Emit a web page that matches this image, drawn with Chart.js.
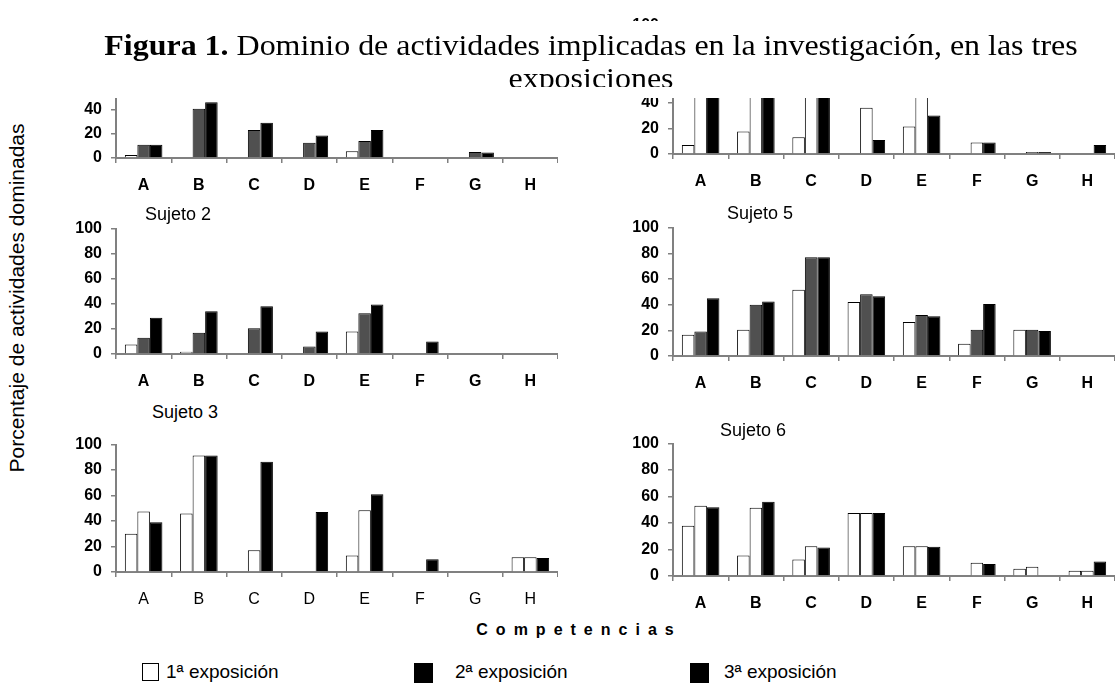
<!DOCTYPE html>
<html lang="es">
<head>
<meta charset="utf-8">
<script src="https://cdn.jsdelivr.net/npm/chart.js@4.4.1/dist/chart.umd.min.js"></script>
<style>
  body { margin: 0; width: 1115px; height: 689px; background: #fff; position: relative; overflow: hidden;
         font-family: "Liberation Sans", Arial, sans-serif; color: #000; }
  canvas.panel { position: absolute; }
  #titulo { position: absolute; left: 60px; top: 21px; width: 1055px; height: 77px; background: #fff; z-index: 5; }
  #titulo .clip { position: absolute; left: 31px; top: 0; width: 1000px; height: 66px; overflow: hidden;
                  text-align: center; font: 30px "Liberation Serif", "Times New Roman", serif; line-height: 33px;
                  padding-top: 7px; box-sizing: border-box; transform: scaleX(1.065); transform-origin: 50% 0; }
  .sujeto { position: absolute; font-size: 18px; line-height: 20px; z-index: 3; }
  #ylabel { position: absolute; left: 17px; top: 298px; transform: translate(-50%, -50%) rotate(-90deg);
            white-space: nowrap; font-size: 21px; }
  #xlabel { position: absolute; left: 579px; top: 630px; transform: translate(-50%, -50%);
            font-weight: bold; font-size: 16px; letter-spacing: 8px; white-space: nowrap; }
  .ley { position: absolute; top: 661px; font-size: 19px; line-height: 22px; white-space: nowrap; }
  .caja { position: absolute; top: 663px; box-sizing: border-box; }
</style>
</head>
<body>

<div id="titulo"><div class="clip"><b>Figura 1.</b> Dominio de actividades implicadas en la investigación, en las tres<br>exposiciones</div></div>

<div id="ylabel">Porcentaje de actividades dominadas</div>
<div id="xlabel">Competencias</div>

<div class="caja" style="left:142px; width:17px; height:18px; border:1.5px solid #000; background:#fff;"></div>
<div class="ley" style="left:166px;">1ª exposición</div>
<div class="caja" style="left:414px; width:19px; height:20px; background:#000;"></div>
<div class="ley" style="left:455px;">2ª exposición</div>
<div class="caja" style="left:690px; width:19px; height:20px; background:#000;"></div>
<div class="ley" style="left:724px;">3ª exposición</div>

<div class="sujeto" style="left:145px; top:204px;">Sujeto 2</div>
<div class="sujeto" style="left:727px; top:203px;">Sujeto 5</div>
<div class="sujeto" style="left:152px; top:402px;">Sujeto 3</div>
<div class="sujeto" style="left:720px; top:420px;">Sujeto 6</div>

<canvas class="panel" id="s1"></canvas>
<canvas class="panel" id="s2"></canvas>
<canvas class="panel" id="s3"></canvas>
<canvas class="panel" id="s4"></canvas>
<canvas class="panel" id="s5"></canvas>
<canvas class="panel" id="s6"></canvas>

<script>
// --- datos (porcentaje de actividades dominadas) ---
const competencias = ['A', 'B', 'C', 'D', 'E', 'F', 'G', 'H'];

const sujeto1_exp1 = [2.5, 0, 0, 0, 5.5, 0, 0, 0];
const sujeto1_exp2 = [11, 40.5, 23, 12.5, 14, 0, 5, 0];
const sujeto1_exp3 = [11, 46, 29, 18.5, 23, 0, 4.5, 0];

const sujeto2_exp1 = [7.5, 1.8, 0, 0, 18, 0, 0, 0];
const sujeto2_exp2 = [13, 17, 20.5, 6, 32.5, 0, 0, 0];
const sujeto2_exp3 = [29, 34, 38, 18, 39.5, 10, 0, 0];

const sujeto3_exp1 = [30, 46, 0, 0, 13, 0, 0, 11.5];
const sujeto3_exp2 = [47.5, 91.5, 17, 0, 48.5, 0, 0, 11.5];
const sujeto3_exp3 = [39, 91.5, 86.5, 47, 61, 10, 0, 11];

// en el sujeto 4 las barras mas altas quedan tapadas por el titulo
const sujeto4_exp1 = [7, 17.5, 13, 0, 21.5, 0, 0, 0];
const sujeto4_exp2 = [60, 75, 70, 36, 55, 9, 1.5, 0];
const sujeto4_exp3 = [58, 80, 78, 11, 30, 9, 1.5, 7];

const sujeto5_exp1 = [16.5, 20.5, 51.5, 42, 26.5, 9.5, 20.5, 0];
const sujeto5_exp2 = [19, 40, 77, 48, 32, 20.5, 20.5, 0];
const sujeto5_exp3 = [45, 42.5, 77, 46.5, 31, 40.5, 19.5, 0];

const sujeto6_exp1 = [38, 15.5, 12.5, 47.5, 22.5, 0, 5.5, 4];
const sujeto6_exp2 = [53, 51.5, 22.5, 47.5, 22.5, 10, 7, 4];
const sujeto6_exp3 = [52, 56, 21.5, 47.5, 22, 9, 0, 11];

const tituloSerie = ['1ª exposición', '2ª exposición', '3ª exposición'];

// posicion de cada panel en la pagina (eje y, linea de 100, linea de 0, ancho)
const paneles = [
    { id: 's1', series: [sujeto1_exp1, sujeto1_exp2, sujeto1_exp3], gris: true,  ejeX: 116, y100: 30,  y0: 158, ancho: 442 },
    { id: 's2', series: [sujeto2_exp1, sujeto2_exp2, sujeto2_exp3], gris: true,  ejeX: 116, y100: 222, y0: 354, ancho: 442 },
    { id: 's3', series: [sujeto3_exp1, sujeto3_exp2, sujeto3_exp3], gris: false, ejeX: 116, y100: 438, y0: 572, ancho: 442, fina: true },
    { id: 's4', series: [sujeto4_exp1, sujeto4_exp2, sujeto4_exp3], gris: false, ejeX: 673, y100: 19,  y0: 154, ancho: 442 },
    { id: 's5', series: [sujeto5_exp1, sujeto5_exp2, sujeto5_exp3], gris: true,  ejeX: 673, y100: 221, y0: 356, ancho: 442 },
    { id: 's6', series: [sujeto6_exp1, sujeto6_exp2, sujeto6_exp3], gris: false, ejeX: 673, y100: 437, y0: 576, ancho: 442 }
];

const ANCHO_EJE_Y = 56;
const ALTO_EJE_X = 40;
const MARGEN_SUP = 12;

function crearPanel(p) {
    const canvas = document.getElementById(p.id);
    const w = ANCHO_EJE_Y + p.ancho;
    const h = MARGEN_SUP + (p.y0 - p.y100) + ALTO_EJE_X;
    canvas.width = w;
    canvas.height = h;
    canvas.style.width = w + 'px';
    canvas.style.height = h + 'px';
    canvas.style.left = (p.ejeX - ANCHO_EJE_Y) + 'px';
    canvas.style.top = (p.y100 - MARGEN_SUP) + 'px';

    const rellenos = ['#ffffff', p.gris ? '#505050' : '#ffffff', '#000000'];

    new Chart(canvas, {
        type: 'bar',
        data: {
            labels: competencias,
            datasets: p.series.map((datos, i) => ({
                label: tituloSerie[i],
                data: datos,
                backgroundColor: rellenos[i],
                borderColor: '#000000',
                borderWidth: 1,
                borderSkipped: 'bottom',
                categoryPercentage: 0.68,
                barPercentage: 1.0
            }))
        },
        options: {
            responsive: false,
            animation: false,
            devicePixelRatio: 1,
            layout: { padding: { top: MARGEN_SUP, left: 0, right: 0, bottom: 0 } },
            plugins: { legend: { display: false }, title: { display: false }, tooltip: { enabled: false } },
            scales: {
                x: {
                    afterFit: function(scale) { scale.height = ALTO_EJE_X; },
                    grid: { offset: true, drawOnChartArea: false, tickLength: 5, color: '#808080', lineWidth: 1.5 },
                    border: { color: '#808080', width: 2 },
                    ticks: {
                        color: '#000',
                        padding: 13,
                        font: p.fina
                            ? { family: '"Liberation Sans Narrow", "Liberation Sans", Arial', size: 16, weight: 'normal' }
                            : { family: '"Liberation Sans", Arial', size: 16, weight: 'bold' }
                    }
                },
                y: {
                    min: 0,
                    max: 100,
                    afterFit: function(scale) { scale.width = ANCHO_EJE_Y; },
                    grid: { drawOnChartArea: false, tickLength: 5, color: '#808080', lineWidth: 1.5 },
                    border: { color: '#808080', width: 2 },
                    ticks: {
                        stepSize: 20,
                        color: '#000',
                        padding: 9,
                        font: { family: '"Liberation Sans", Arial', size: 16, weight: 'bold' }
                    }
                }
            }
        }
    });
}

paneles.forEach(crearPanel);
</script>
</body>
</html>
